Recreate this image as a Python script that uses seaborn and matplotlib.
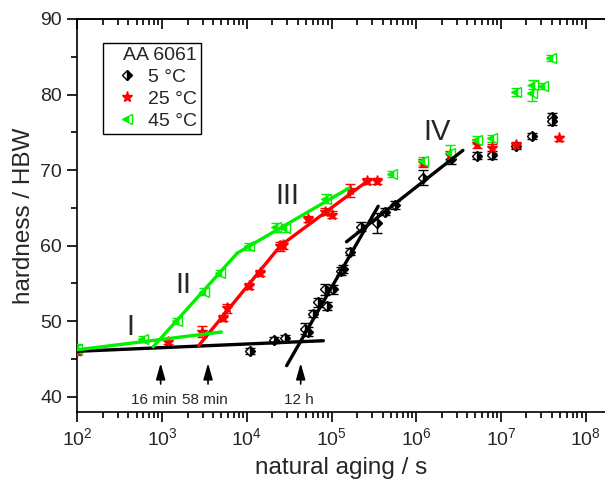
import matplotlib
matplotlib.use("Agg")
import matplotlib.pyplot as plt
import seaborn as sns
import pandas as pd
from matplotlib.lines import Line2D
from matplotlib.ticker import LogLocator, NullFormatter, MultipleLocator

# ---------------- data ----------------
t_5C = [1.1e4, 2.1e4, 2.8e4, 4.9e4, 5.3e4, 6.1e4, 6.9e4, 8.3e4, 8.8e4, 1.05e5, 1.3e5, 1.38e5,
        1.66e5, 2.2e5, 3.4e5, 4.3e5, 5.6e5, 1.2e6, 2.6e6, 5.2e6, 7.8e6, 1.5e7, 2.3e7, 4.0e7, 4.0e7]
h_5C = [46.0, 47.5, 47.8, 49.0, 48.6, 51.0, 52.5, 54.2, 52.0, 54.2, 56.6, 56.9,
        59.2, 62.5, 63.0, 64.5, 65.4, 69.0, 71.4, 71.9, 72.0, 73.2, 74.5, 77.0, 76.5]
e_5C = [0.4, 0.4, 0.4, 0.7, 0.6, 0.5, 0.6, 0.7, 0.5, 0.6, 0.5, 0.5,
        0.5, 0.6, 1.3, 0.5, 0.5, 1.0, 0.6, 0.5, 0.5, 0.4, 0.4, 0.5, 0.5]

t_25C = [1e2, 1.18e3, 2.95e3, 5.25e3, 5.8e3, 1.05e4, 1.44e4, 2.46e4, 2.7e4, 5.3e4, 8.3e4,
         1.0e5, 1.66e5, 2.6e5, 3.4e5, 1.2e6, 2.5e6, 5.2e6, 7.8e6, 1.5e7, 4.9e7]
h_25C = [46.1, 47.2, 48.6, 50.4, 51.7, 54.6, 56.4, 59.9, 60.1, 63.5, 64.5,
         64.1, 67.3, 68.5, 68.5, 70.9, 72.0, 73.5, 72.9, 73.3, 74.2]
e_25C = [0.6, 0.3, 0.7, 0.4, 0.6, 0.4, 0.4, 0.6, 0.5, 0.4, 0.5,
         0.5, 0.9, 0.4, 0.4, 0.5, 0.5, 0.6, 0.6, 0.4, 0.3]

t_45C = [1e2, 6.0e2, 1.48e3, 3.1e3, 4.8e3, 1.05e4, 2.2e4, 2.8e4, 8.7e4, 5.1e5, 1.2e6,
         2.5e6, 5.2e6, 7.8e6, 1.5e7, 2.3e7, 2.4e7, 3.1e7, 3.9e7]
h_45C = [46.3, 47.6, 50.0, 53.9, 56.4, 59.9, 62.4, 62.3, 66.2, 69.5, 71.2,
         72.3, 74.0, 74.2, 80.3, 80.2, 81.3, 81.1, 84.8]
e_45C = [0.7, 0.4, 0.4, 0.5, 0.4, 0.5, 0.6, 0.5, 0.6, 0.4, 0.5,
         1.0, 0.5, 0.5, 0.5, 1.1, 0.6, 0.4, 0.4]

# fitted stage lines (start/end of each segment)
seg_id    = ["5C_I", "5C_I", "5C_III", "5C_III", "5C_IV", "5C_IV",
             "25C_II", "25C_II", "25C_III", "25C_III",
             "45C_I", "45C_I", "45C_II", "45C_II", "45C_III", "45C_III"]
seg_temp  = ["5 °C"] * 6 + ["25 °C"] * 4 + ["45 °C"] * 6
seg_t     = [1e2, 8e4, 2.95e4, 3.55e5, 1.5e5, 3.55e6,
             2.7e3, 2.5e4, 2.5e4, 2.7e5,
             1e2, 5e3, 7.85e2, 7.7e3, 7.7e3, 1.6e5]
seg_h     = [46.0, 47.4, 44.1, 65.2, 60.5, 72.6,
             46.75, 60.0, 60.0, 68.6,
             46.2, 48.55, 46.6, 59.0, 59.0, 67.6]

stage_labels = ["I", "II", "III", "IV"]
stage_t = [4.2e2, 1.78e3, 3.0e4, 1.74e6]
stage_h = [49.2, 54.8, 66.5, 75.1]

arrow_labels = ["16 min", "58 min", "12 h"]
arrow_t = [960, 3480, 43200]
arrow_label_t = [790, 3200, 41000]

series = ["5 °C", "25 °C", "45 °C"]
colors = {"5 °C": "#000000", "25 °C": "#ff0000", "45 °C": "#00f000"}

# ---------------- style ----------------
sns.set_theme(style="ticks")
plt.rcParams["font.family"] = ["Liberation Sans", "DejaVu Sans"]
plt.rcParams["mathtext.fontset"] = "custom"
plt.rcParams["mathtext.rm"] = "Liberation Sans"
plt.rcParams["mathtext.it"] = "Liberation Sans:italic"

fig = plt.figure(figsize=(6.05, 4.83), dpi=100)
ax = fig.add_axes([0.128, 0.1476, 0.872, 0.8131])
ax.set_xscale("log")

# data points with error bars
marker_kw = {
    "5 °C": dict(marker="D", ms=5.5, mfc="black", mfcalt="white", mec="black", fillstyle="right"),
    "25 °C": dict(marker="*", ms=8, mfc="#ff0000", mec="#ff0000"),
    "45 °C": dict(marker="<", ms=7, mfc="#00f000", mfcalt="white", mec="#00f000", fillstyle="left"),
}
data = {"5 °C": (t_5C, h_5C, e_5C), "25 °C": (t_25C, h_25C, e_25C), "45 °C": (t_45C, h_45C, e_45C)}
for s in series:
    t, h, e = data[s]
    ax.errorbar(t, h, yerr=e, ls="none", ecolor=colors[s], elinewidth=1.0, capsize=3.5,
                capthick=1.0, mew=1.0, zorder=3, **marker_kw[s])

# stage lines via seaborn
seg_df = pd.DataFrame({"t": seg_t, "h": seg_h, "seg": seg_id, "temp": seg_temp})
sns.lineplot(data=seg_df, x="t", y="h", hue="temp", units="seg", estimator=None,
             palette=colors, linewidth=2.4, legend=False, ax=ax, zorder=4, sort=False)

# stage labels
for lab, tx, hy in zip(stage_labels, stage_t, stage_h):
    ax.text(tx, hy, lab, fontsize=21, ha="center", va="center")

# arrows
for lab, tx, tl in zip(arrow_labels, arrow_t, arrow_label_t):
    ax.annotate("", xy=(tx, 44.8), xytext=(tx, 41.3),
                arrowprops=dict(arrowstyle="-|>,head_length=0.7,head_width=0.2",
                                color="black", lw=1.2, mutation_scale=14))
    ax.text(tl, 39.5, lab, fontsize=11, ha="center", va="center")

# axes
ax.set_xlim(1e2, 1.69e8)
ax.set_ylim(38, 90)
ax.yaxis.set_major_locator(MultipleLocator(10))
ax.yaxis.set_minor_locator(MultipleLocator(5))
ax.xaxis.set_major_locator(LogLocator(base=10, numticks=20))
ax.xaxis.set_minor_locator(LogLocator(base=10, subs=range(2, 10), numticks=20))
ax.xaxis.set_minor_formatter(NullFormatter())
ax.tick_params(axis="both", which="major", direction="out", length=7, width=1.2,
               labelsize=14, color="black", pad=4)
ax.tick_params(axis="both", which="minor", direction="out", length=4, width=1.2, color="black")
ax.set_xlabel("natural aging / s", fontsize=17.5, labelpad=6)
ax.set_ylabel("hardness / HBW", fontsize=17.5, labelpad=4)

for side in ["left", "bottom", "top"]:
    ax.spines[side].set_linewidth(1.2)
    ax.spines[side].set_color("black")
ax.spines["right"].set_visible(False)

sec = ax.secondary_xaxis("top")
sec.set_xscale("log")
sec.xaxis.set_major_locator(LogLocator(base=10, numticks=20))
sec.xaxis.set_minor_locator(LogLocator(base=10, subs=range(2, 10), numticks=20))
sec.xaxis.set_major_formatter(NullFormatter())
sec.xaxis.set_minor_formatter(NullFormatter())
sec.tick_params(which="major", direction="in", length=7, width=1.2, color="black")
sec.tick_params(which="minor", direction="in", length=4, width=1.2, color="black")
sec.spines["top"].set_linewidth(1.2)

# legend
handles = [Line2D([], [], ls="none", **marker_kw[s]) for s in series]
leg = ax.legend(handles, series, title="AA 6061", loc="upper left",
                bbox_to_anchor=(0.049, 0.938), borderaxespad=0, frameon=True,
                fancybox=False, edgecolor="black", framealpha=1, fontsize=14,
                title_fontsize=14, alignment="right", handlelength=2.0,
                handletextpad=0.1, labelspacing=0.22, borderpad=0.2)
leg.get_frame().set_linewidth(1.0)

fig.savefig("out.png", dpi=100)
